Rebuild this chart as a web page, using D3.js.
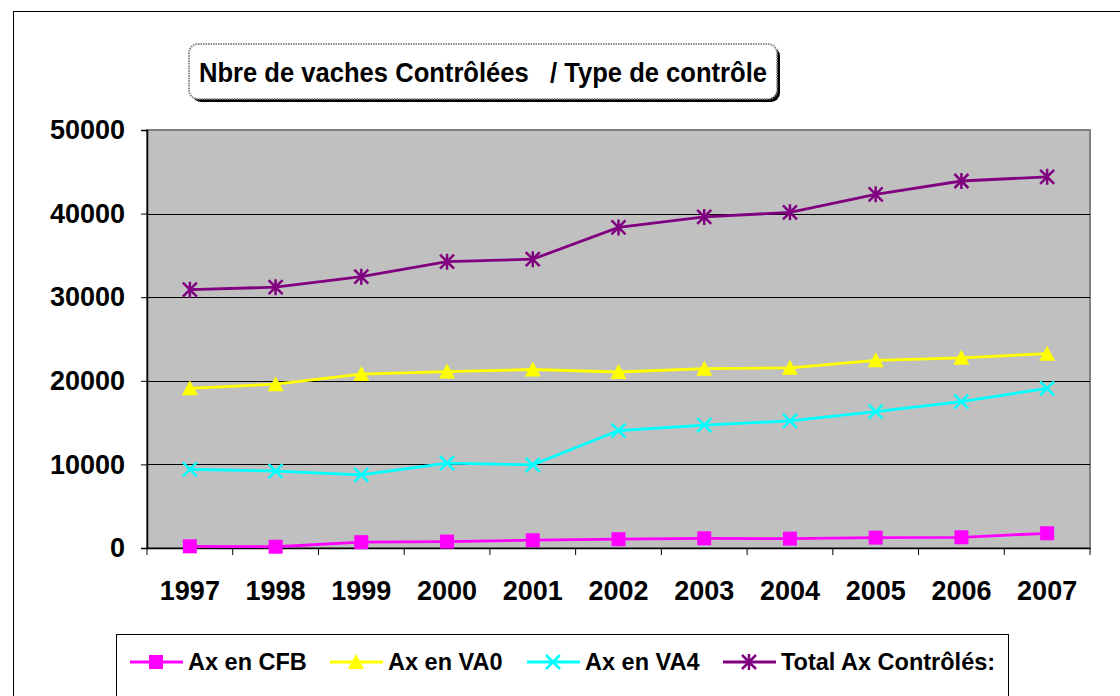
<!DOCTYPE html>
<html><head><meta charset="utf-8">
<script src="https://cdn.jsdelivr.net/npm/d3@7"></script>
<style>body{margin:0;background:#fff;}svg{display:block;}</style>
</head><body>
<svg id="c" width="1120" height="696"></svg>
<script>
const years = ["1997","1998","1999","2000","2001","2002","2003","2004","2005","2006","2007"];
const cfb   = [200, 150, 700, 770, 930, 1050, 1160, 1120, 1240, 1280, 1760];
const va0   = [19100, 19600, 20800, 21100, 21350, 21050, 21450, 21550, 22450, 22750, 23250];
const va4   = [9400, 9200, 8750, 10150, 9950, 14050, 14700, 15200, 16300, 17500, 19100];
const total = [30900, 31200, 32450, 34250, 34550, 38350, 39600, 40150, 42300, 43900, 44400];
const yTicks = [0, 10000, 20000, 30000, 40000, 50000];
const seriesNames = ["Ax en CFB", "Ax en VA0", "Ax en VA4", "Total Ax Contrôlés:"];
const seriesColors = ["#FF00FF", "#FFFF00", "#00FFFF", "#800080"];
const seriesMarkers = ["square", "triangle", "x", "star"];
const title = "Nbre de vaches Contrôlées   / Type de contrôle";

const svg = d3.select("#c");
const font = "'Liberation Sans', Arial, sans-serif";
// outer chart border
svg.append("rect").attr("x",13.5).attr("y",11.5).attr("width",1300).attr("height",900)
  .attr("fill","#fff").attr("stroke","#000").attr("stroke-width",1);

const L=147, R=1090, T=130, B=548;
const x = d3.scaleBand().domain(years).range([L,R]);
const y = d3.scaleLinear().domain([0,50000]).range([B,T]);

svg.append("rect").attr("x",L).attr("y",T).attr("width",R-L).attr("height",B-T)
  .attr("fill","#C0C0C0").attr("stroke","#808080").attr("stroke-width",2);

// gridlines
svg.append("g").selectAll("line").data(yTicks.filter(d=>d>0 && d<50000)).join("line")
  .attr("x1",L).attr("x2",R).attr("y1",d=>Math.round(y(d))+0.5).attr("y2",d=>Math.round(y(d))+0.5)
  .attr("stroke","#000").attr("stroke-width",1);

// y axis
const ya = svg.append("g").attr("transform",`translate(${L},0)`)
  .call(d3.axisLeft(y).tickValues(yTicks).tickSize(6).tickPadding(16).tickFormat(d3.format("d")));
ya.select(".domain").attr("stroke","#000").attr("stroke-width",1.5);
ya.selectAll(".tick line").attr("stroke","#000");
ya.selectAll("text").attr("font-family",font).attr("font-weight","bold").attr("font-size",27).attr("fill","#000");

// x axis
const xa = svg.append("g").attr("transform",`translate(0,${B})`)
  .call(d3.axisBottom(x).tickSize(0).tickPadding(33));
xa.select(".domain").attr("stroke","#000").attr("stroke-width",1.5);
xa.selectAll("text").attr("font-family",font).attr("font-weight","bold").attr("font-size",27).attr("fill","#000");
const bounds = years.map(d=>x(d)).concat([R]);
svg.append("g").selectAll("line").data(bounds).join("line")
  .attr("x1",d=>d).attr("x2",d=>d).attr("y1",B).attr("y2",B+7).attr("stroke","#000").attr("stroke-width",1);

function marker(g, type, color, size){
  const s=size/2;
  if(type==="square") g.append("rect").attr("x",-s).attr("y",-s).attr("width",size).attr("height",size).attr("fill",color);
  else if(type==="triangle") g.append("path").attr("d",`M0,${-s-1}L${s+1},${s}L${-s-1},${s}Z`).attr("fill",color);
  else if(type==="x") g.append("path").attr("d",`M${-s},${-s}L${s},${s}M${-s},${s}L${s},${-s}`).attr("stroke",color).attr("stroke-width",2.5).attr("fill","none");
  else g.append("path").attr("d",`M${-s},${-s}L${s},${s}M${-s},${s}L${s},${-s}M0,${-s-1}L0,${s+1}`).attr("stroke",color).attr("stroke-width",2.5).attr("fill","none");
}

const allSeries = [cfb, va0, va4, total];
const line = d3.line().x((d,i)=>x(years[i])+x.bandwidth()/2).y(d=>y(d));
allSeries.forEach((vals,k)=>{
  svg.append("path").datum(vals).attr("d",line).attr("fill","none")
    .attr("stroke",seriesColors[k]).attr("stroke-width",2.8);
  vals.forEach((v,i)=>{
    const g = svg.append("g").attr("transform",`translate(${x(years[i])+x.bandwidth()/2},${y(v)})`);
    marker(g, seriesMarkers[k], seriesColors[k], 14);
  });
});

// title box
const tb = {x:189, y:44, w:588, h:55};
svg.append("rect").attr("x",tb.x+3).attr("y",tb.y+3).attr("width",tb.w).attr("height",tb.h).attr("rx",9)
  .attr("fill","#000");
svg.append("rect").attr("x",tb.x).attr("y",tb.y).attr("width",tb.w).attr("height",tb.h).attr("rx",9)
  .attr("fill","#fff").attr("stroke","#888").attr("stroke-width",2).attr("stroke-dasharray","1.5,1");
svg.append("text").attr("x",tb.x+tb.w/2).attr("y",tb.y+38).attr("text-anchor","middle")
  .attr("font-family",font).attr("font-weight","bold").attr("font-size",28)
  .attr("textLength",568).attr("lengthAdjust","spacingAndGlyphs")
  .style("white-space","pre").text(title);

// legend
svg.append("rect").attr("x",116.5).attr("y",634.5).attr("width",892).attr("height",90)
  .attr("fill","#fff").attr("stroke","#000").attr("stroke-width",1);
const legX = [130, 330, 527, 723];
const ly = 662;
seriesNames.forEach((n,k)=>{
  svg.append("line").attr("x1",legX[k]).attr("x2",legX[k]+53).attr("y1",ly).attr("y2",ly)
    .attr("stroke",seriesColors[k]).attr("stroke-width",2.8);
  const g = svg.append("g").attr("transform",`translate(${legX[k]+26},${ly})`);
  marker(g, seriesMarkers[k], seriesColors[k], 14);
  svg.append("text").attr("x",legX[k]+58).attr("y",ly+8).attr("font-family",font)
    .attr("font-weight","bold").attr("font-size",23.5).text(n);
});
</script>
</body></html>
